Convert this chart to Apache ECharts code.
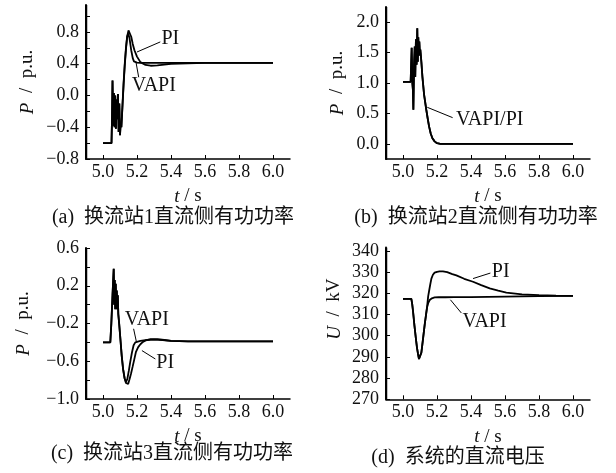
<!DOCTYPE html>
<html><head><meta charset="utf-8">
<script src="https://cdn.jsdelivr.net/npm/echarts@6/dist/echarts.min.js"></script>
<style>html,body{margin:0;padding:0;background:#fff}#c{width:616px;height:473px}</style>
</head><body><div id="c"></div>
<script>
// ---- data ----
var xTicks = [5.0, 5.2, 5.4, 5.6, 5.8, 6.0];
var xMin = 4.9, xMax = 6.1;

// (a) converter station 1
var tA0 = [5.0, 5.05, 5.053, 5.056, 5.06, 5.064, 5.068, 5.072, 5.076, 5.08, 5.084, 5.088, 5.092, 5.096, 5.1, 5.104, 5.108];
var pA0 = [-0.6, -0.6, -0.3, 0.19, -0.38, 0.03, -0.4, 0.0, -0.42, -0.05, -0.3, 0.02, -0.46, -0.1, -0.5, -0.35, -0.4];
var tAv = [5.115, 5.121, 5.128, 5.135, 5.142, 5.148, 5.156, 5.166, 5.175, 5.182, 5.19, 5.2, 5.22, 5.25, 5.3, 5.4, 5.5, 5.6, 5.8, 6.0];
var pAv = [-0.1, 0.15, 0.4, 0.6, 0.74, 0.78, 0.72, 0.57, 0.47, 0.43, 0.42, 0.415, 0.41, 0.41, 0.41, 0.41, 0.41, 0.41, 0.41, 0.41];
var tAp = [5.115, 5.121, 5.128, 5.135, 5.142, 5.15, 5.158, 5.166, 5.175, 5.185, 5.2, 5.22, 5.25, 5.28, 5.32, 5.36, 5.4, 5.5, 5.6, 5.8, 6.0];
var pAp = [-0.12, 0.13, 0.38, 0.58, 0.74, 0.82, 0.8, 0.74, 0.65, 0.57, 0.49, 0.42, 0.385, 0.375, 0.38, 0.39, 0.4, 0.405, 0.41, 0.41, 0.41];
var yTicksA = [-0.8, -0.6, -0.4, -0.2, 0, 0.2, 0.4, 0.6, 0.8, 1.0];
var yLabelsA = [-0.8, -0.4, 0, 0.4, 0.8];

// (b) converter station 2 (VAPI and PI coincide)
var tB = [5.0, 5.045, 5.048, 5.051, 5.055, 5.058, 5.061, 5.065, 5.069, 5.072, 5.076, 5.08, 5.084, 5.087, 5.09, 5.093, 5.096, 5.099, 5.102, 5.108, 5.114, 5.124, 5.137, 5.145, 5.153, 5.163, 5.173, 5.186, 5.2, 5.22, 5.3, 6.0];
var pB = [1.02, 1.02, 1.3, 1.58, 1.0, 0.9, 0.56, 1.3, 1.6, 1.1, 1.72, 1.3, 1.9, 1.35, 1.75, 1.45, 1.68, 1.5, 1.55, 1.35, 1.11, 0.81, 0.56, 0.42, 0.29, 0.17, 0.09, 0.04, 0.01, 0.0, 0.0, 0.0];
var yTicksB = [0, 0.5, 1.0, 1.5, 2.0];

// (c) converter station 3
var tC0 = [5.0, 5.043, 5.049, 5.056, 5.063, 5.066, 5.069, 5.072, 5.075, 5.078, 5.081, 5.084, 5.087, 5.09];
var pC0 = [-0.4, -0.4, -0.2, 0.1, 0.38, 0.0, 0.26, -0.05, 0.22, -0.05, 0.15, -0.02, 0.1, -0.1];
var tCv = [5.095, 5.103, 5.11, 5.118, 5.127, 5.135, 5.143, 5.152, 5.16, 5.17, 5.18, 5.19, 5.2, 5.22, 5.26, 5.3, 5.35, 5.4, 5.5, 6.0];
var pCv = [-0.2, -0.38, -0.54, -0.68, -0.78, -0.82, -0.79, -0.7, -0.61, -0.51, -0.43, -0.4, -0.39, -0.385, -0.375, -0.37, -0.375, -0.385, -0.39, -0.39];
var tCp = [5.095, 5.103, 5.11, 5.118, 5.127, 5.135, 5.142, 5.148, 5.156, 5.165, 5.174, 5.184, 5.194, 5.207, 5.22, 5.235, 5.25, 5.28, 5.32, 5.36, 5.4, 5.5, 6.0];
var pCp = [-0.2, -0.38, -0.54, -0.68, -0.78, -0.83, -0.85, -0.84, -0.79, -0.73, -0.66, -0.58, -0.5, -0.45, -0.42, -0.395, -0.38, -0.365, -0.365, -0.375, -0.385, -0.39, -0.39];
var yTicksC = [-1.0, -0.8, -0.6, -0.4, -0.2, 0, 0.2, 0.4, 0.6];
var yLabelsC = [-1.0, -0.6, -0.2, 0.2, 0.6];

// (d) DC voltage
var tD0 = [5.0, 5.049, 5.054, 5.059, 5.067, 5.075, 5.082, 5.088, 5.094, 5.098, 5.103, 5.108, 5.112, 5.12, 5.128, 5.135, 5.141];
var uD0 = [317.3, 317.3, 315, 311.5, 305, 299.2, 294.5, 291.5, 289, 288.2, 289.5, 292, 294.6, 300, 305.4, 309.5, 313.1];
var tDv = [5.148, 5.157, 5.17, 5.186, 5.21, 5.25, 5.3, 5.4, 5.5, 5.6, 5.8, 6.0];
var uDv = [315.3, 316.8, 317.6, 318.0, 318.1, 318.1, 318.15, 318.2, 318.3, 318.4, 318.6, 318.7];
var tDp = [5.148, 5.153, 5.16, 5.167, 5.176, 5.186, 5.2, 5.215, 5.235, 5.26, 5.29, 5.314, 5.36, 5.412, 5.46, 5.51, 5.56, 5.608, 5.7, 5.8, 5.9, 6.0];
var uDp = [318.5, 320.8, 324, 326.9, 328.7, 329.7, 330.1, 330.3, 330.3, 329.9, 329.0, 328.4, 326.8, 325.4, 323.8, 322.3, 321.2, 320.3, 319.5, 319.1, 318.85, 318.7];
var yTicksD = [270, 280, 290, 300, 310, 320, 330, 340];

var yMins = [-0.8, -0.25, -1.0, 270];
var yMaxs = [1.14, 2.25, 0.6, 341.5];

var captions = ['(a)  换流站1直流侧有功功率', '(b)  换流站2直流侧有功功率', '(c)  换流站3直流侧有功功率', '(d)  系统的直流电压'];

// ---- helpers ----
function pairs(t, v) { return t.map(function (x, i) { return [x, v[i]]; }); }
var SERIF = '"Liberation Serif", "Times New Roman", serif';
var CJK = '"Liberation Serif", "Noto Sans CJK SC", serif';
var INK = '#111';
var EN = '\u2002';
function fmt(v) { var s = (Math.abs(v) >= 100) ? String(Math.round(v)) : v.toFixed(1); return s.replace('-', '\u2212'); }
function nameStyle() {
  return { fontFamily: SERIF, fontSize: 19, color: INK, rich: { i: { fontStyle: 'italic', fontFamily: SERIF, fontSize: 19, color: INK } } };
}
function xAxis(gi) {
  return {
    type: 'value', gridIndex: gi, min: xMin, max: xMax,
    name: '{i|t} / s', nameLocation: 'middle', nameGap: 28, nameTextStyle: nameStyle(),
    axisLine: { onZero: false, lineStyle: { color: '#000', width: 1.5 } },
    axisTick: { inside: true, length: 4, lineStyle: { color: '#000' }, customValues: xTicks },
    axisLabel: { customValues: xTicks, formatter: fmt, fontFamily: SERIF, fontSize: 18, color: INK, margin: 4 },
    splitLine: { show: false }
  };
}
function yAxis(gi, ticks, labels, name, gap) {
  return {
    type: 'value', gridIndex: gi, min: yMins[gi], max: yMaxs[gi],
    name: name, nameLocation: 'middle', nameGap: gap, nameRotate: 90, nameTextStyle: nameStyle(),
    axisLine: { show: true, onZero: false, lineStyle: { color: '#000', width: 2 } },
    axisTick: { show: true, inside: true, length: 4, lineStyle: { color: '#000' }, customValues: ticks },
    axisLabel: { customValues: labels, formatter: fmt, fontFamily: SERIF, fontSize: 18, color: INK, margin: 7 },
    splitLine: { show: false }
  };
}
function curve(name, gi, data, extra) {
  var s = { name: name, type: 'line', xAxisIndex: gi, yAxisIndex: gi, data: data,
    showSymbol: false, symbol: 'none', lineStyle: { color: '#000', width: 1.8 }, silent: true };
  if (extra) {
    s.markLine = { silent: true, symbol: ['none', 'none'], label: { show: false },
      lineStyle: { color: '#000', width: 1, type: 'solid' },
      data: extra.lines.map(function (l) { return [{ coord: l[0] }, { coord: l[1] }]; }) };
    s.markPoint = { silent: true, symbol: 'circle', symbolSize: 1, itemStyle: { color: 'rgba(0,0,0,0)' },
      label: { show: true, position: 'inside', fontFamily: SERIF, fontSize: 20, color: INK },
      data: extra.texts.map(function (t) { return { coord: t[1], value: t[0], label: { formatter: t[0] } }; }) };
  }
  return s;
}
function captionGraphics() {
  var pos = [[173, 218], [476, 218], [172, 454], [458, 458]];
  return captions.map(function (c, i) {
    return { id: 'cap' + i, type: 'text', x: pos[i][0], y: pos[i][1], z: 50,
      style: { text: c, font: '20px ' + CJK, fill: INK, textAlign: 'center', textVerticalAlign: 'middle' } };
  });
}

var chart = echarts.init(document.getElementById('c'), null, { renderer: 'canvas' });
chart.setOption({
  animation: false,
  grid: [
    { left: 86, top: 5, width: 204, height: 154 },
    { left: 386, top: 7, width: 204, height: 152 },
    { left: 86, top: 248, width: 204, height: 151 },
    { left: 386, top: 247.6, width: 204, height: 151.7 }
  ],
  xAxis: [xAxis(0), xAxis(1), xAxis(2), xAxis(3)],
  yAxis: [
    yAxis(0, yTicksA, yLabelsA, '{i|P}' + EN + '/' + EN + 'p.u.', 49),
    yAxis(1, yTicksB, yTicksB, '{i|P}' + EN + '/' + EN + 'p.u.', 39),
    yAxis(2, yTicksC, yLabelsC, '{i|P}' + EN + '/' + EN + 'p.u.', 53),
    yAxis(3, yTicksD, yTicksD, '\u2003\u2002{i|U}' + EN + '/' + EN + 'kV', 42)
  ],
  series: [
    curve('VAPI', 0, pairs(tA0.concat(tAv), pA0.concat(pAv))),
    curve('PI', 0, pairs(tA0.concat(tAp), pA0.concat(pAp)), {
      lines: [[[5.2, 0.548], [5.337, 0.675]], [[5.194, 0.42], [5.21, 0.23]]],
      texts: [['PI', [5.396, 0.715]], ['VAPI', [5.299, 0.127]]] }),
    curve('VAPI', 1, pairs(tB, pB)),
    curve('PI', 1, pairs(tB, pB), {
      lines: [[[5.143, 0.6], [5.292, 0.43]]],
      texts: [['VAPI/PI', [5.51, 0.40]]] }),
    curve('VAPI', 2, pairs(tC0.concat(tCv), pC0.concat(pCv))),
    curve('PI', 2, pairs(tC0.concat(tCp), pC0.concat(pCp)), {
      lines: [[[5.18, -0.256], [5.196, -0.39]], [[5.229, -0.487], [5.308, -0.576]]],
      texts: [['VAPI', [5.258, -0.16]], ['PI', [5.366, -0.62]]] }),
    curve('VAPI', 3, pairs(tD0.concat(tDv), uD0.concat(uDv))),
    curve('PI', 3, pairs(tD0.concat(tDp), uD0.concat(uDp)), {
      lines: [[[5.412, 326.9], [5.514, 329.5]], [[5.279, 316.9], [5.343, 310.7]]],
      texts: [['PI', [5.575, 330.3]], ['VAPI', [5.48, 306.6]]] })
  ],
  graphic: captionGraphics()
});

// left axis lines, placed through the chart's own scales
var axisLines = [];
for (var g = 0; g < 4; g++) {
  var p0 = chart.convertToPixel({ xAxisIndex: g, yAxisIndex: g }, [xMin, yMins[g]]);
  var p1 = chart.convertToPixel({ xAxisIndex: g, yAxisIndex: g }, [xMin, yMaxs[g]]);
  var xx = Math.round(p0[0]) + 0.5;
  axisLines.push({ id: 'yl' + g, type: 'line', z: 100, silent: true,
    shape: { x1: xx, y1: p0[1] + 0.75, x2: xx, y2: p1[1] },
    style: { stroke: '#000', lineWidth: 1.5 } });
}
chart.setOption({ graphic: captionGraphics().concat(axisLines) });
</script>
</body></html>
